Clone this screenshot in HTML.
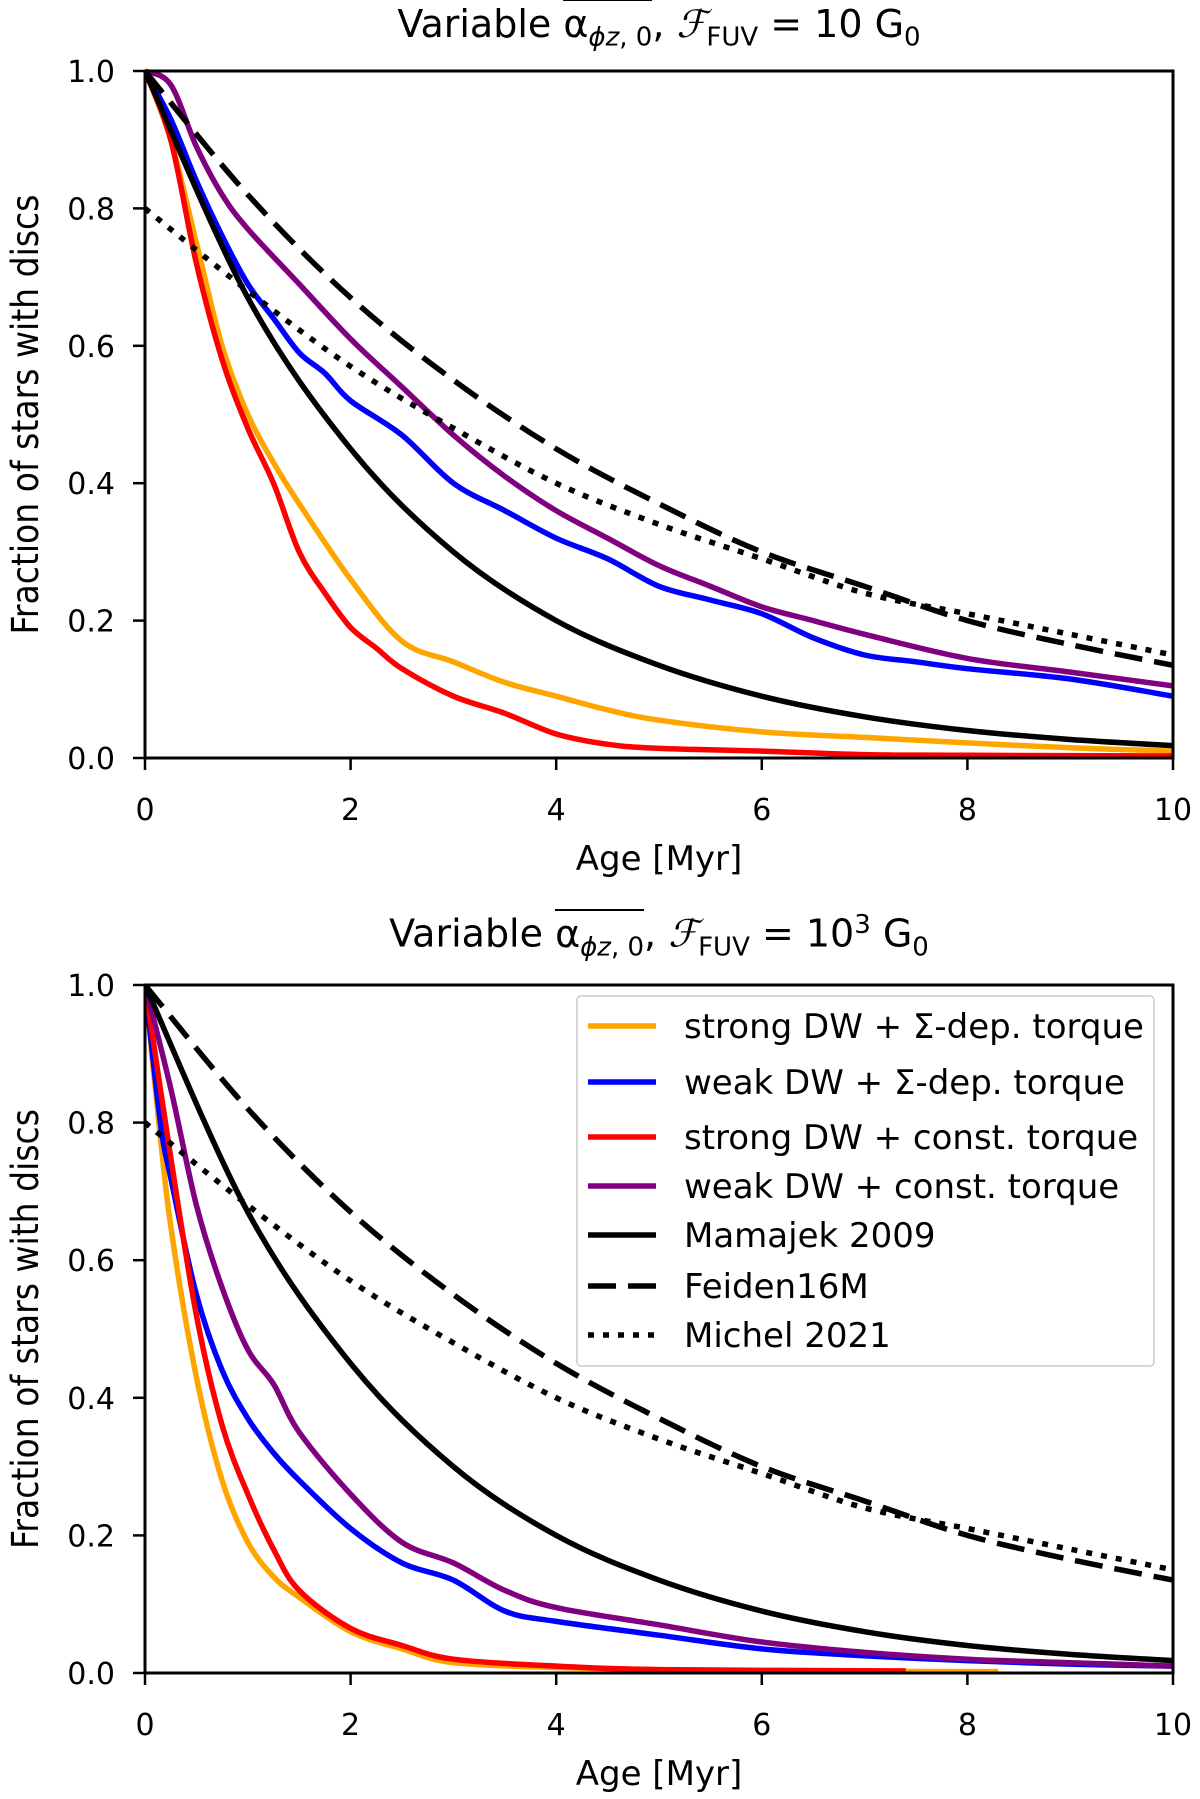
<!DOCTYPE html>
<html><head><meta charset="utf-8">
<style>
html,body{margin:0;padding:0;background:#fff;}
body{width:1200px;height:1799px;position:relative;overflow:hidden;font-family:"DejaVu Sans","Liberation Sans",sans-serif;}
.title{position:absolute;left:145px;width:1028px;text-align:center;font-size:38px;color:#000;white-space:nowrap;}
.ov{border-top:2px solid #000;padding-top:1px;}
svg{position:absolute;left:0;top:0;}
</style></head><body>
<div class="title" style="top:2px">Variable <span class="ov">α<sub style="font-size:26px"><i>ϕz</i>, 0</sub></span>, <i style="font-family:'Liberation Serif',serif">ℱ</i><sub style="font-size:26px">FUV</sub> = 10 G<sub style="font-size:26px">0</sub></div>
<div class="title" style="top:910px">Variable <span class="ov">α<sub style="font-size:26px"><i>ϕz</i>, 0</sub></span>, <i style="font-family:'Liberation Serif',serif">ℱ</i><sub style="font-size:26px">FUV</sub> = 10<sup style="font-size:26px">3</sup> G<sub style="font-size:26px">0</sub></div>
<svg id="chart" width="1200" height="1799"></svg>
<script>
const xTicks=[0,2,4,6,8,10];
const yTicks=[0.0,0.2,0.4,0.6,0.8,1.0];
const yTickLabels=["0.0","0.2","0.4","0.6","0.8","1.0"];
const mamT=[0,1,2,3,4,5,6,7,8,9,10];
const mamV=[1,.67,.45,.30,.20,.135,.09,.06,.04,.027,.018];
const feiV=[1,.82,.67,.55,.45,.37,.30,.25,.20,.165,.135];
const micV=[.8,.68,.57,.48,.40,.34,.29,.24,.21,.18,.15];
const topOrangeT=[0,.25,.5,.75,1,1.25,1.5,2,2.5,3,3.5,4,4.5,5,6,7,8,9,10];
const topOrangeV=[1,.9,.75,.6,.5,.43,.37,.26,.17,.14,.11,.09,.07,.055,.038,.03,.022,.015,.01];
const topRedT=[0,.25,.5,.75,1,1.25,1.5,1.75,2,2.25,2.5,3,3.5,4,4.5,5,6,7,8,10];
const topRedV=[1,.9,.72,.58,.48,.40,.30,.24,.19,.16,.13,.09,.065,.035,.02,.014,.01,.005,.004,.003];
const topBlueT=[0,.25,.5,.75,1,1.25,1.5,1.75,2,2.5,3,3.5,4,4.5,5,5.5,6,6.5,7,7.5,8,9,10];
const topBlueV=[1,.93,.84,.76,.69,.64,.59,.56,.52,.47,.40,.36,.32,.29,.25,.23,.21,.175,.15,.14,.13,.115,.09];
const topPurpleT=[0,.25,.5,.75,1,1.5,2,2.5,3,3.5,4,4.5,5,5.5,6,6.5,7,8,9,10];
const topPurpleV=[1,.98,.89,.82,.77,.69,.61,.54,.47,.41,.36,.32,.28,.25,.22,.2,.18,.145,.125,.105];
const botOrangeT=[0,.1,.25,.5,.75,1,1.25,1.5,2,2.5,3,4,5,6,8.3];
const botOrangeV=[1,.85,.65,.43,.28,.19,.14,.11,.06,.035,.015,.008,.005,.003,.002];
const botRedT=[0,.25,.5,.75,1,1.25,1.5,2,2.5,3,4,5,7.4];
const botRedV=[1,.75,.52,.36,.26,.18,.12,.065,.04,.02,.01,.005,.003];
const botBlueT=[0,.15,.25,.5,.75,1,1.25,1.5,2,2.5,3,3.5,4,5,6,7,8,9,10];
const botBlueV=[1,.8,.72,.55,.44,.37,.32,.28,.21,.16,.135,.09,.075,.055,.035,.025,.018,.013,.01];
const botPurpleT=[0,.25,.5,.75,1,1.25,1.5,2,2.5,3,3.5,4,5,6,7,8,9,10];
const botPurpleV=[1,.85,.68,.56,.47,.42,.35,.26,.19,.16,.12,.095,.07,.045,.03,.02,.015,.01];
const legendLabels=["strong DW + Σ-dep. torque","weak DW + Σ-dep. torque","strong DW + const. torque","weak DW + const. torque","Mamajek 2009","Feiden16M","Michel 2021"];

const NS="http://www.w3.org/2000/svg";
const svg=document.getElementById('chart');
function mk(tag,attrs,parent){const e=document.createElementNS(NS,tag);for(const k in attrs)e.setAttribute(k,attrs[k]);(parent||svg).appendChild(e);return e;}
function smooth(P){
  let d='M'+P[0][0].toFixed(1)+','+P[0][1].toFixed(1);
  for(let i=0;i<P.length-1;i++){
    const p0=P[Math.max(0,i-1)],p1=P[i],p2=P[i+1],p3=P[Math.min(P.length-1,i+2)];
    const c1=[p1[0]+(p2[0]-p0[0])/6,p1[1]+(p2[1]-p0[1])/6];
    const c2=[p2[0]-(p3[0]-p1[0])/6,p2[1]-(p3[1]-p1[1])/6];
    d+=' C'+c1[0].toFixed(1)+','+c1[1].toFixed(1)+' '+c2[0].toFixed(1)+','+c2[1].toFixed(1)+' '+p2[0].toFixed(1)+','+p2[1].toFixed(1);
  }
  return d;
}
const X0=145,X1=1173;
function drawPanel(prefix,top,bottom,series,legend){
  const sx=v=>X0+(v/10)*(X1-X0);
  const sy=v=>bottom-v*(bottom-top);
  const g=mk('g',{});
  
  
  const clip=mk('clipPath',{id:prefix+'clip'},g);
  mk('rect',{x:X0,y:top-4,width:X1-X0,height:bottom-top+8},clip);
  const sg=mk('g',{'clip-path':'url(#'+prefix+'clip)'},g);
  series.forEach(s=>{
    const P=s.t.map((t,i)=>[sx(t),sy(s.v[i])]);
    const p=mk('path',{d:smooth(P),fill:'none',stroke:s.c,'stroke-width':5.5,'stroke-linejoin':'round'},sg);
    if(s.d)p.setAttribute('stroke-dasharray',s.d);
    
    
  });
  const fr=mk('rect',{x:X0,y:top,width:X1-X0,height:bottom-top,fill:'none',stroke:'#000','stroke-width':3},g);
  
  
  xTicks.forEach(t=>{
    mk('line',{x1:sx(t),x2:sx(t),y1:bottom,y2:bottom+12,stroke:'#000','stroke-width':2.5},g);
    const tx=mk('text',{x:sx(t),y:bottom+62,'text-anchor':'middle','font-size':30,'font-family':'DejaVu Sans, sans-serif'},g);
    tx.textContent=t;
    
    
  });
  yTicks.forEach((t,i)=>{
    mk('line',{x1:X0-12,x2:X0,y1:sy(t),y2:sy(t),stroke:'#000','stroke-width':2.5},g);
    const tx=mk('text',{x:X0-30,y:sy(t)+11,'text-anchor':'end','font-size':30,'font-family':'DejaVu Sans, sans-serif'},g);
    tx.textContent=yTickLabels[i];
    
    
  });
  const xl=mk('text',{x:(X0+X1)/2,y:bottom+112,'text-anchor':'middle','font-size':34,'font-family':'DejaVu Sans, sans-serif'},g);
  xl.textContent='Age [Myr]';
  
  
  const cy=(top+bottom)/2;
  const yl=mk('text',{x:cy,y:0,'text-anchor':'middle','font-size':37,'font-family':'DejaVu Sans Condensed, DejaVu Sans, sans-serif'},g);
  yl.setAttribute('transform','rotate(-90) translate('+(-2*cy)+' 38)');
  yl.setAttribute('textLength',440);
  yl.setAttribute('lengthAdjust','spacingAndGlyphs');
  yl.textContent='Fraction of stars with discs';
  
  
  if(legend){
    const lg=mk('g',{},g);
    
    
    mk('rect',{x:577,y:996,width:577,height:370,fill:'#fff','fill-opacity':0.85,stroke:'#ccc','stroke-width':1.5,rx:4},lg);
    const ys=[1026,1082,1137,1186,1235,1286,1335];
    series.forEach((s,i)=>{
      const l=mk('line',{x1:588,x2:656,y1:ys[i],y2:ys[i],stroke:s.c,'stroke-width':5.5},lg);
      if(s.d)l.setAttribute('stroke-dasharray',s.d);
      
      
      const tx=mk('text',{x:684,y:ys[i]+12,'font-size':34,'font-family':'DejaVu Sans, sans-serif'},lg);
      tx.textContent=legendLabels[i];
      
      
    });
  }
}
const blk=[{n:'mamajek',t:mamT,v:mamV,c:'#000'},{n:'feiden16m',t:mamT,v:feiV,c:'#000',d:'28 12'},{n:'michel',t:mamT,v:micV,c:'#000',d:'6 9'}];
drawPanel('top',71,758,[
  {n:'strong-sigma',t:topOrangeT,v:topOrangeV,c:'#ffa500'},
  {n:'weak-sigma',t:topBlueT,v:topBlueV,c:'#0000ff'},
  {n:'strong-const',t:topRedT,v:topRedV,c:'#ff0000'},
  {n:'weak-const',t:topPurpleT,v:topPurpleV,c:'#800080'}].concat(blk),false);
drawPanel('bottom',985,1673,[
  {n:'strong-sigma',t:botOrangeT,v:botOrangeV,c:'#ffa500'},
  {n:'weak-sigma',t:botBlueT,v:botBlueV,c:'#0000ff'},
  {n:'strong-const',t:botRedT,v:botRedV,c:'#ff0000'},
  {n:'weak-const',t:botPurpleT,v:botPurpleV,c:'#800080'}].concat(blk),true);
</script>
</body></html>
